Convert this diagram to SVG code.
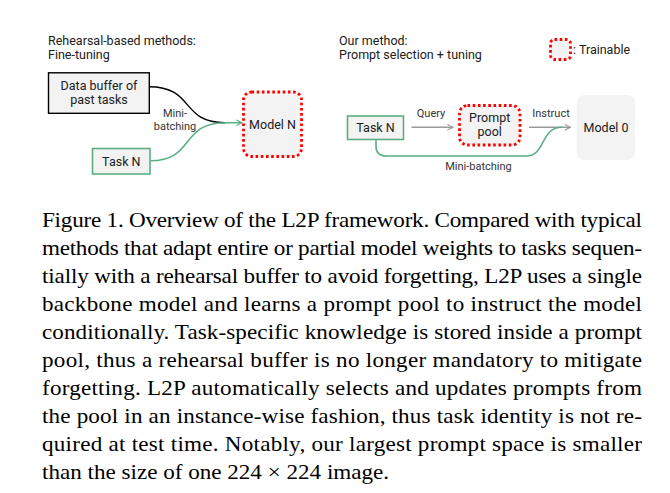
<svg xmlns="http://www.w3.org/2000/svg" width="670" height="493" viewBox="0 0 670 493">
<defs>
<style>
.t{font-family:Roboto,"Liberation Sans",sans-serif;font-size:12.5px;fill:#202020}
.s{font-family:Roboto,"Liberation Sans",sans-serif;font-size:11px;fill:#333}
.c{font-family:"Liberation Serif","Times New Roman",serif;font-size:20.7px;fill:#000}
.box{fill:#f3f3f3}
.blk{stroke:#000;stroke-width:1.4}
.grn{stroke:#5aaf82;stroke-width:1.6}
.red{fill:#f3f3f3;stroke:#f00;stroke-width:2.8;stroke-dasharray:2.6 2.6}
.gl{fill:none;stroke:#9a9a9a;stroke-width:1.6}
.gc{fill:none;stroke:#5aaf82;stroke-width:1.6}
</style>
<marker id="ag" viewBox="0 0 10 10" refX="9" refY="5" markerWidth="7" markerHeight="7" markerUnits="userSpaceOnUse" orient="auto"><path d="M1,1 L9,5 L1,9" fill="none" stroke="#5aaf82" stroke-width="1.6"/></marker>
<marker id="ay" viewBox="0 0 10 10" refX="9" refY="5" markerWidth="7" markerHeight="7" markerUnits="userSpaceOnUse" orient="auto"><path d="M1,1 L9,5 L1,9" fill="none" stroke="#9a9a9a" stroke-width="1.6"/></marker>
</defs>
<rect width="670" height="493" fill="#fff"/>

<g id="titles">
<text class="t" x="48" y="45">Rehearsal-based methods:</text>
<text class="t" x="48" y="58.5">Fine-tuning</text>
<text class="t" x="339" y="45">Our method:</text>
<text class="t" x="339" y="58.5">Prompt selection + tuning</text>
</g>

<g id="legend">
<rect class="red" x="550.5" y="39.5" width="20" height="20" rx="4"/>
<text class="t" x="573" y="53.5">: Trainable</text>
</g>

<g id="connectors">
<path class="blk" fill="none" d="M149,86.8 C195,86.8 180,122.7 225,122.7"/>
<path class="gc" d="M150.5,160.8 C195,160.8 180,122.7 225,122.7 L242,122.7" marker-end="url(#ag)"/>
<path class="gl" d="M411.5,127.3 L453,127.3" marker-end="url(#ay)"/>
<path class="gl" d="M529,127.3 L570.5,127.3" marker-end="url(#ay)"/>
<path class="gc" d="M376,139.5 L376,146 Q376,156 386,156 L526,156 C546,156 540,127.3 562,127.3"/>
<text class="s" x="175" y="116.7" text-anchor="middle">Mini-</text>
<text class="s" x="175" y="130" text-anchor="middle">batching</text>
<text class="s" x="431" y="116.7" text-anchor="middle">Query</text>
<text class="s" x="551" y="116.7" text-anchor="middle">Instruct</text>
<text class="s" x="478.5" y="169.5" text-anchor="middle">Mini-batching</text>
</g>

<g id="data-buffer">
<rect class="box blk" x="48.5" y="72.8" width="100.8" height="40.5"/>
<text class="t" x="99" y="89.5" text-anchor="middle">Data buffer of</text>
<text class="t" x="99" y="104" text-anchor="middle">past tasks</text>
</g>

<g id="task-n-left">
<rect class="box grn" x="92.5" y="148.5" width="57.5" height="25.5"/>
<text class="t" x="121.3" y="166" text-anchor="middle">Task N</text>
</g>

<g id="model-n">
<rect class="red" x="243.5" y="92" width="58" height="64.5" rx="8"/>
<text class="t" x="272.5" y="129" text-anchor="middle">Model N</text>
</g>

<g id="task-n-right">
<rect class="box grn" x="347.5" y="116" width="56" height="23.5"/>
<text class="t" x="375.5" y="132.3" text-anchor="middle">Task N</text>
</g>

<g id="prompt-pool">
<rect class="red" x="459.5" y="105.5" width="60.5" height="39.5" rx="8"/>
<text class="t" x="489.7" y="122" text-anchor="middle">Prompt</text>
<text class="t" x="489.7" y="135.5" text-anchor="middle">pool</text>
</g>

<g id="model-0">
<rect class="box" x="576.7" y="95" width="58.3" height="65" rx="8"/>
<text class="t" x="606" y="131.7" text-anchor="middle">Model 0</text>
</g>

<g id="caption" transform="translate(42,0) scale(1.116,1) translate(-42,0)">
<text class="c" x="42" y="227" textLength="537.6" lengthAdjust="spacing">Figure 1. Overview of the L2P framework. Compared with typical</text>
<text class="c" x="42" y="255" textLength="537.6" lengthAdjust="spacing">methods that adapt entire or partial model weights to tasks sequen-</text>
<text class="c" x="42" y="283" textLength="537.6" lengthAdjust="spacing">tially with a rehearsal buffer to avoid forgetting, L2P uses a single</text>
<text class="c" x="42" y="311" textLength="537.6" lengthAdjust="spacing">backbone model and learns a prompt pool to instruct the model</text>
<text class="c" x="42" y="339" textLength="537.6" lengthAdjust="spacing">conditionally.  Task-specific knowledge is stored inside a prompt</text>
<text class="c" x="42" y="367" textLength="537.6" lengthAdjust="spacing">pool, thus a rehearsal buffer is no longer mandatory to mitigate</text>
<text class="c" x="42" y="395" textLength="537.6" lengthAdjust="spacing">forgetting.  L2P automatically selects and updates prompts from</text>
<text class="c" x="42" y="423" textLength="537.6" lengthAdjust="spacing">the pool in an instance-wise fashion, thus task identity is not re-</text>
<text class="c" x="42" y="451" textLength="537.6" lengthAdjust="spacing">quired at test time.  Notably, our largest prompt space is smaller</text>
<text class="c" x="42" y="479">than the size of one 224 × 224 image.</text>
</g>
</svg>
